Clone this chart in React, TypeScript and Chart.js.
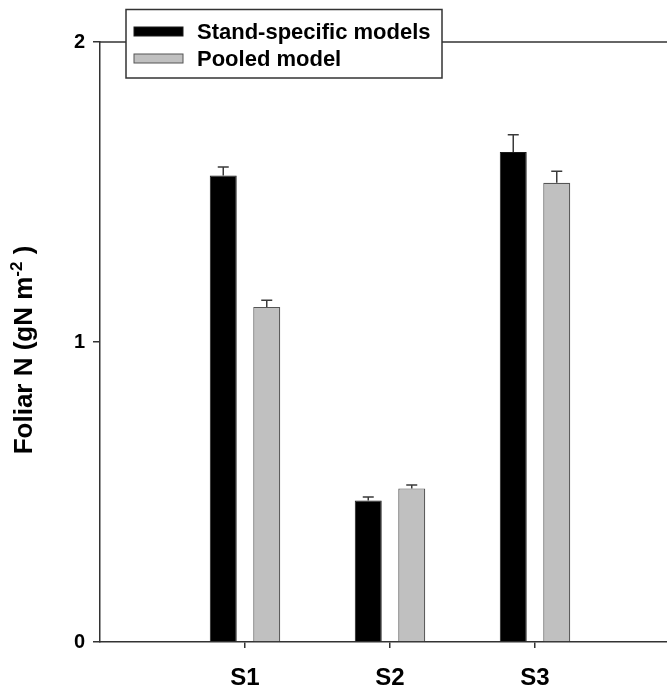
import React, { useEffect, useRef } from "react";
import { Chart, registerables } from "chart.js";

Chart.register(...registerables);

const categories = ["S1", "S2", "S3"];
const seriesNames = ["Stand-specific models", "Pooled model"];
const standSpecific = [1.555, 0.472, 1.633];
const standSpecificErr = [0.028, 0.011, 0.058];
const pooled = [1.117, 0.512, 1.531];
const pooledErr = [0.022, 0.011, 0.038];
const yTicks = [0, 1, 2];

const FONT = "'Liberation Sans', Arial, Helvetica, sans-serif";
const AXIS = "#333333";

const errorBarPlugin = {
  id: "errorBars",
  afterDatasetsDraw(chart: any) {
    const ctx = chart.ctx;
    const yScale = chart.scales.y;
    chart.data.datasets.forEach((ds: any, di: number) => {
      const meta = chart.getDatasetMeta(di);
      const errs: number[] = ds.errors || [];
      meta.data.forEach((bar: any, i: number) => {
        const v = ds.data[i].y;
        const top = yScale.getPixelForValue(v + errs[i]);
        ctx.save();
        ctx.strokeStyle = "#3a3a3a";
        ctx.lineWidth = 1.5;
        ctx.beginPath();
        ctx.moveTo(bar.x, bar.y);
        ctx.lineTo(bar.x, top);
        ctx.moveTo(bar.x - 5.5, top);
        ctx.lineTo(bar.x + 5.5, top);
        ctx.stroke();
        ctx.restore();
      });
    });
  },
};

const framePlugin = {
  id: "frameAndLegend",
  afterDraw(chart: any) {
    const ctx = chart.ctx;
    const { left, right, top, bottom } = chart.chartArea;
    ctx.save();
    // top frame line
    ctx.strokeStyle = AXIS;
    ctx.lineWidth = 1.5;
    ctx.beginPath();
    ctx.moveTo(left, top);
    ctx.lineTo(right, top);
    ctx.stroke();

    // y axis title with superscript
    ctx.save();
    ctx.translate(25, (top + bottom) / 2 + 8);
    ctx.rotate(-Math.PI / 2);
    ctx.fillStyle = "#000";
    ctx.textBaseline = "middle";
    ctx.textAlign = "left";
    const mainFont = `bold 26px ${FONT}`;
    const supFont = `bold 17px ${FONT}`;
    const p1 = "Foliar N (gN m";
    const p2 = "-2";
    const p3 = " )";
    ctx.font = mainFont;
    const w1 = ctx.measureText(p1).width;
    const w3 = ctx.measureText(p3).width;
    ctx.font = supFont;
    const w2 = ctx.measureText(p2).width;
    const total = w1 + w2 + w3;
    let x = -total / 2;
    ctx.font = mainFont;
    ctx.fillText(p1, x, 0);
    x += w1;
    ctx.font = supFont;
    ctx.fillText(p2, x, -8);
    x += w2;
    ctx.font = mainFont;
    ctx.fillText(p3, x, 0);
    ctx.restore();

    // legend box
    const bx = 126, by = 9.5, bw = 316, bh = 68.5;
    ctx.fillStyle = "#ffffff";
    ctx.fillRect(bx, by, bw, bh);
    ctx.strokeStyle = AXIS;
    ctx.lineWidth = 1.5;
    ctx.strokeRect(bx, by, bw, bh);
    chart.data.datasets.forEach((ds: any, i: number) => {
      const cy = 31.5 + i * 27;
      ctx.fillStyle = ds.backgroundColor;
      ctx.fillRect(134, cy - 4.5, 49, 9);
      ctx.strokeStyle = ds.borderColor;
      ctx.lineWidth = 1;
      ctx.strokeRect(134, cy - 4.5, 49, 9);
      ctx.fillStyle = "#000";
      ctx.font = `bold 22px ${FONT}`;
      ctx.textBaseline = "middle";
      ctx.textAlign = "left";
      ctx.fillText(ds.label, 197, cy + 1);
    });
    ctx.restore();
  },
};

export default function App() {
  const ref = useRef<HTMLCanvasElement | null>(null);

  useEffect(() => {
    if (!ref.current) return;
    const chart = new Chart(ref.current, {
      type: "bar",
      data: {
        datasets: [
          {
            label: seriesNames[0],
            data: standSpecific.map((v, i) => ({ x: i + 1, y: v })),
            errors: standSpecificErr,
            backgroundColor: "#000000",
            borderColor: "#1a1a1a",
            borderWidth: 1,
            categoryPercentage: 0.6,
            barPercentage: 0.62,
          } as any,
          {
            label: seriesNames[1],
            data: pooled.map((v, i) => ({ x: i + 1, y: v })),
            errors: pooledErr,
            backgroundColor: "#c0c0c0",
            borderColor: "#555555",
            borderWidth: 1.2,
            categoryPercentage: 0.6,
            barPercentage: 0.62,
          } as any,
        ],
      },
      options: {
        responsive: false,
        animation: false,
        devicePixelRatio: 1,
        layout: { padding: { top: 42, left: 0, right: 0, bottom: 0 } },
        plugins: {
          legend: { display: false },
          tooltip: { enabled: false },
        },
        scales: {
          x: {
            type: "linear",
            min: 0,
            max: 4,
            offset: false,
            afterBuildTicks: (scale: any) => {
              scale.ticks = categories.map((_, i) => ({ value: i + 1 }));
            },
            afterFit: (scale: any) => {
              scale.height = 49;
            },
            ticks: {
              callback: (v: any) => categories[Math.round(Number(v)) - 1] ?? "",
              font: { family: FONT, size: 24, weight: "bold" },
              color: "#000",
              padding: 16,
              maxRotation: 0,
              autoSkip: false,
            },
            grid: {
              display: true,
              offset: false,
              drawOnChartArea: false,
              drawTicks: true,
              tickLength: 6,
              color: AXIS,
              lineWidth: 1.5,
            },
            border: { display: true, color: AXIS, width: 1.5 },
          },
          y: {
            type: "linear",
            min: 0,
            max: 2,
            afterBuildTicks: (scale: any) => {
              scale.ticks = yTicks.map((v) => ({ value: v }));
            },
            afterFit: (scale: any) => {
              scale.width = 100;
            },
            ticks: {
              font: { family: FONT, size: 20, weight: "bold" },
              color: "#000",
              padding: 8,
            },
            grid: {
              display: true,
              drawOnChartArea: false,
              drawTicks: true,
              tickLength: 7,
              color: AXIS,
              lineWidth: 1.5,
            },
            border: { display: true, color: AXIS, width: 1.5 },
          },
        },
      } as any,
      plugins: [errorBarPlugin, framePlugin],
    });
    return () => chart.destroy();
  }, []);

  return (
    <div
      style={{
        position: "fixed",
        left: 0,
        top: 0,
        width: 667,
        height: 691,
        overflow: "hidden",
        background: "#fff",
      }}
    >
      <canvas ref={ref} width={680} height={691} style={{ display: "block" }} />
    </div>
  );
}
